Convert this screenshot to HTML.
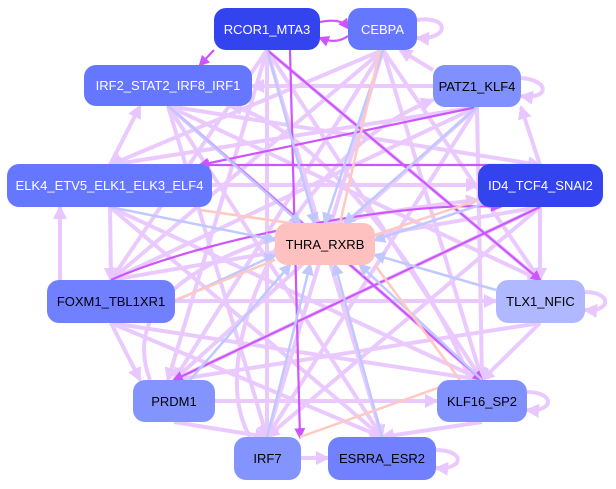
<!DOCTYPE html>
<html><head><meta charset="utf-8"><style>
body{margin:0;background:#fff;width:616px;height:489px;overflow:hidden;font-family:"Liberation Sans",sans-serif}
.n{position:absolute;border-radius:12px;display:flex;align-items:center;justify-content:center;font-size:13px}
</style></head><body>
<svg width="616" height="489" style="position:absolute;left:0;top:0">
<defs>
<marker id="a" markerWidth="3.5" markerHeight="3.5" refX="3" refY="1.75" orient="auto"><path d="M0,0L3.5,1.75L0,3.5z" fill="#e6c0ff"/></marker>
<marker id="d" markerWidth="5" markerHeight="5" refX="4" refY="2.5" orient="auto"><path d="M0,0L5,2.5L0,5z" fill="#cc55ff"/></marker>
<marker id="b" markerWidth="5" markerHeight="5" refX="4" refY="2.5" orient="auto"><path d="M0,0L5,2.5L0,5z" fill="#c0c8ff"/></marker>
</defs>
<g stroke="#e8c4ff" stroke-width="4" fill="none" marker-end="url(#a)" opacity="0.9">
<path d="M267,50L168,380"/><path d="M267,50L267,437"/><path d="M267,50L482,380"/><path d="M267,50L540,280"/><path d="M267,50L382,437"/><path d="M267,50L111,280"/>
<path d="M383,50L174,380"/><path d="M383,50L267,437"/><path d="M383,50L482,380"/><path d="M383,50L110,165"/><path d="M383,50L540,280"/><path d="M383,50L111,280"/>
<path d="M168,106L482,380"/><path d="M168,106L382,437"/><path d="M168,106L540,280"/><path d="M168,106L267,437"/><path d="M168,106L540,165"/>
<path d="M477,107L174,380"/><path d="M477,107L267,437"/><path d="M477,107L111,280"/><path d="M477,107L110,165"/><path d="M477,107L482,380"/><path d="M433,86L252,86"/>
<path d="M110,207L482,380"/><path d="M110,207L382,437"/><path d="M212,185L478,185"/><path d="M110,207L111,280"/>
<path d="M540,207L174,380"/><path d="M540,207L267,437"/><path d="M540,207L111,280"/><path d="M540,207L540,280"/>
<path d="M175,301L496,301"/><path d="M111,323L382,437"/><path d="M111,323L482,380"/><path d="M540,323L174,380"/><path d="M540,323L482,380"/>
<path d="M215,401L437,401"/><path d="M174,422L267,437"/><path d="M482,422L382,437"/><path d="M301,458L328,458"/>
<path d="M433,70L400,50"/><path d="M540,165L521,107"/><path d="M110,165L140,106"/><path d="M60,280L60,207"/><path d="M111,323L140,380"/>
<path d="M150,380C120,300 200,230 478,200"/><path d="M250,437C200,350 300,150 433,100"/><path d="M470,380C420,250 300,120 230,106"/>
<path d="M417,20C450,15 450,40 417,38"/><path d="M521,78C550,80 550,100 521,96"/><path d="M585,292C612,292 612,312 585,310"/><path d="M527,392C555,392 555,412 527,410"/><path d="M436,450C465,450 465,470 436,468"/>
</g>
<g stroke="#cc55ff" stroke-width="2.2" fill="none" marker-end="url(#d)">
<path d="M320,22C340,18 345,24 348,28"/><path d="M348,36C340,42 330,42 320,38"/>
<path d="M214,50L200,65"/><path d="M540,207L174,380"/><path d="M168,106L482,380"/><path d="M540,165L200,165"/><path d="M477,107L200,165"/><path d="M267,50L540,280"/><path d="M111,280C200,240 400,200 500,207"/><path d="M290,50L300,437"/>
</g>
<g stroke="#c0c8ff" stroke-width="2.5" fill="none" marker-end="url(#b)">
<path d="M383,50L325,223"/><path d="M267,50L315,223"/><path d="M168,106L300,223"/><path d="M477,107L345,223"/><path d="M540,185L375,240"/><path d="M110,207L275,240"/><path d="M496,290L375,255"/><path d="M175,301L275,255"/><path d="M190,380L290,265"/><path d="M267,437L310,265"/><path d="M382,437L335,265"/><path d="M482,380L360,265"/>
</g>
<g stroke="#ffc8c0" stroke-width="2.5" fill="none">
<path d="M375,265L460,380"/><path d="M290,223L200,210"/><path d="M340,223L380,50"/><path d="M275,260L175,300"/><path d="M375,235L478,200"/><path d="M460,380L300,437"/>
</g>
</svg>
<div class="n" style="left:214px;top:8px;width:106px;height:42px;background:#3344ee;color:#fff">RCOR1_MTA3</div>
<div class="n" style="left:348px;top:8px;width:69px;height:42px;background:#6677ff;color:#fff">CEBPA</div>
<div class="n" style="left:84px;top:65px;width:168px;height:41px;background:#6677ff;color:#fff">IRF2_STAT2_IRF8_IRF1</div>
<div class="n" style="left:433px;top:65px;width:88px;height:42px;background:#8090ff;color:#000">PATZ1_KLF4</div>
<div class="n" style="left:7px;top:164px;width:205px;height:43px;background:#6677ff;color:#fff">ELK4_ETV5_ELK1_ELK3_ELF4</div>
<div class="n" style="left:478px;top:164px;width:125px;height:43px;background:#3344ee;color:#fff">ID4_TCF4_SNAI2</div>
<div class="n" style="left:275px;top:223px;width:100px;height:42px;background:#ffc0c0;color:#000">THRA_RXRB</div>
<div class="n" style="left:47px;top:280px;width:128px;height:43px;background:#7080ff;color:#000">FOXM1_TBL1XR1</div>
<div class="n" style="left:496px;top:280px;width:89px;height:43px;background:#b0b8ff;color:#000">TLX1_NFIC</div>
<div class="n" style="left:133px;top:380px;width:82px;height:42px;background:#8494ff;color:#000">PRDM1</div>
<div class="n" style="left:437px;top:380px;width:90px;height:42px;background:#8090ff;color:#000">KLF16_SP2</div>
<div class="n" style="left:234px;top:437px;width:67px;height:43px;background:#8494ff;color:#000">IRF7</div>
<div class="n" style="left:328px;top:437px;width:108px;height:43px;background:#7080ff;color:#000">ESRRA_ESR2</div>
</body></html>
